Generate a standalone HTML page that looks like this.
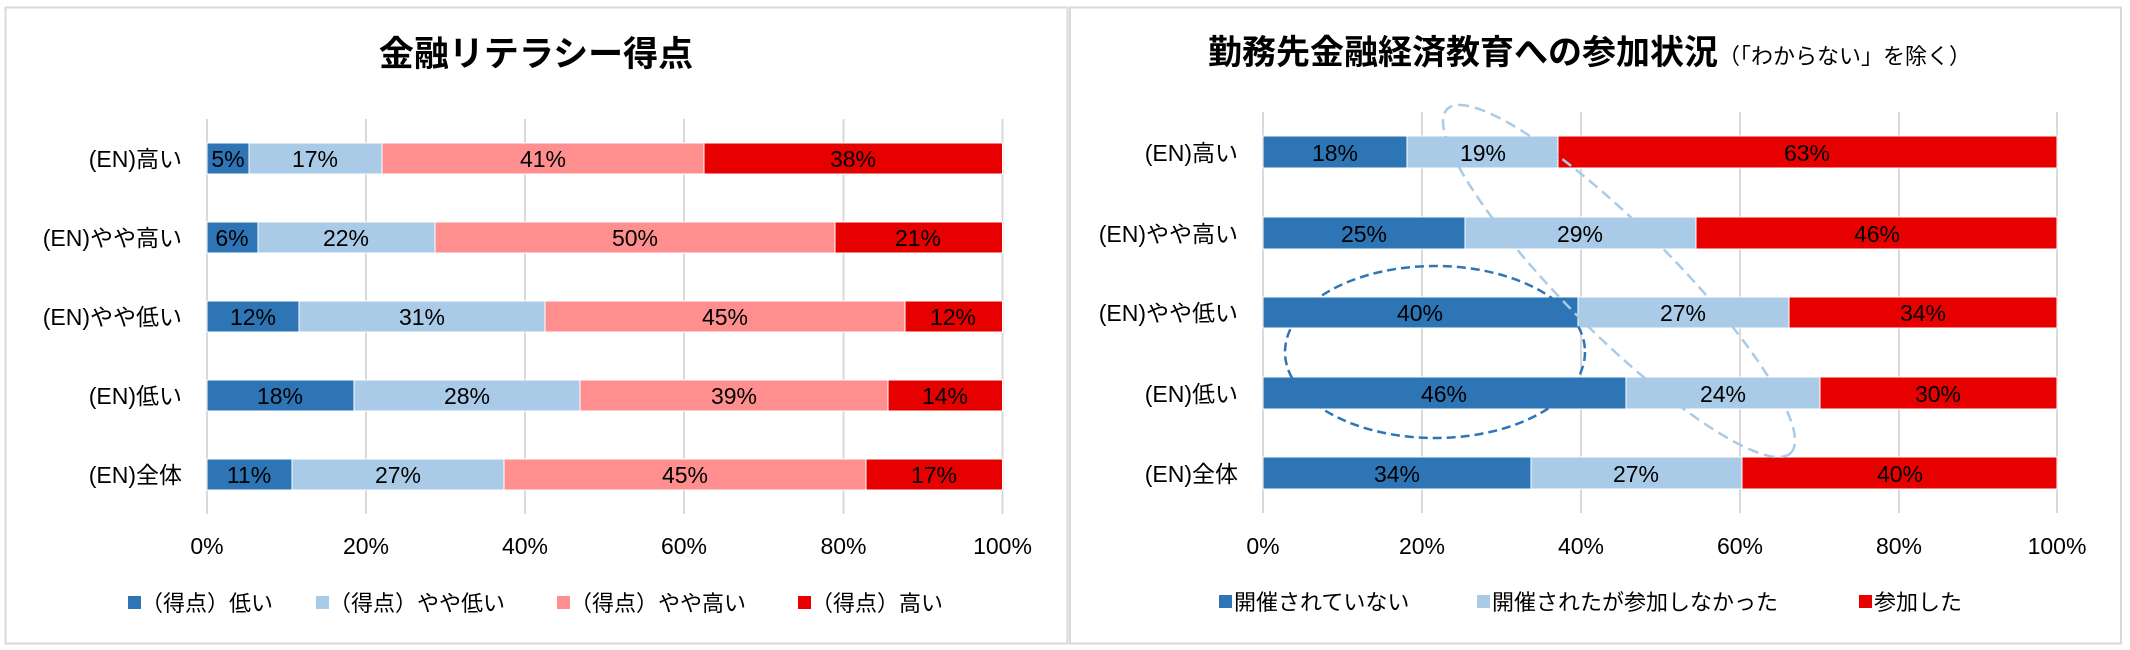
<!DOCTYPE html>
<html><head><meta charset="utf-8"><style>
html,body{margin:0;padding:0;background:#fff}
svg{display:block}
text{font-family:"Liberation Sans","Noto Sans CJK JP",sans-serif;fill:#000}
</style></head><body>
<svg width="2130" height="650" viewBox="0 0 2130 650" xmlns="http://www.w3.org/2000/svg">
<rect x="0" y="0" width="2130" height="650" fill="#fff"/>
<rect x="5.5" y="7.5" width="1062" height="636" fill="#fff" stroke="#d9d9d9" stroke-width="2"/>
<rect x="1070" y="7.5" width="1051" height="636" fill="#fff" stroke="#d9d9d9" stroke-width="2"/>

<!-- LEFT CHART -->
<text x="536" y="66" font-size="35" font-weight="bold" text-anchor="middle">金融リテラシー得点</text>
<g stroke="#d9d9d9" stroke-width="2">
<line x1="207" y1="119" x2="207" y2="514"/><line x1="366" y1="119" x2="366" y2="514"/>
<line x1="525" y1="119" x2="525" y2="514"/><line x1="684" y1="119" x2="684" y2="514"/>
<line x1="843.5" y1="119" x2="843.5" y2="514"/><line x1="1002.5" y1="119" x2="1002.5" y2="514"/>
</g>
<g stroke="#fff" stroke-width="1">
<rect x="207" y="143" width="42" height="31" fill="#2e75b6"/>
<rect x="249" y="143" width="133" height="31" fill="#a9cbe8"/>
<rect x="382" y="143" width="322" height="31" fill="#ff8f8f"/>
<rect x="704" y="143" width="298.5" height="31" fill="#e60000"/>
<rect x="207" y="222" width="51" height="31" fill="#2e75b6"/>
<rect x="258" y="222" width="177" height="31" fill="#a9cbe8"/>
<rect x="435" y="222" width="400" height="31" fill="#ff8f8f"/>
<rect x="835" y="222" width="167.5" height="31" fill="#e60000"/>
<rect x="207" y="301" width="92" height="31" fill="#2e75b6"/>
<rect x="299" y="301" width="246" height="31" fill="#a9cbe8"/>
<rect x="545" y="301" width="360" height="31" fill="#ff8f8f"/>
<rect x="905" y="301" width="97.5" height="31" fill="#e60000"/>
<rect x="207" y="380" width="147" height="31" fill="#2e75b6"/>
<rect x="354" y="380" width="226" height="31" fill="#a9cbe8"/>
<rect x="580" y="380" width="308" height="31" fill="#ff8f8f"/>
<rect x="888" y="380" width="114.5" height="31" fill="#e60000"/>
<rect x="207" y="459" width="85" height="31" fill="#2e75b6"/>
<rect x="292" y="459" width="212" height="31" fill="#a9cbe8"/>
<rect x="504" y="459" width="362" height="31" fill="#ff8f8f"/>
<rect x="866" y="459" width="136.5" height="31" fill="#e60000"/>
</g>
<g font-size="23" text-anchor="middle">
<text x="228" y="167">5%</text><text x="315" y="167">17%</text><text x="543" y="167">41%</text><text x="853" y="167">38%</text>
<text x="232" y="246">6%</text><text x="346" y="246">22%</text><text x="635" y="246">50%</text><text x="918" y="246">21%</text>
<text x="253" y="325">12%</text><text x="422" y="325">31%</text><text x="725" y="325">45%</text><text x="953" y="325">12%</text>
<text x="280" y="404">18%</text><text x="467" y="404">28%</text><text x="734" y="404">39%</text><text x="945" y="404">14%</text>
<text x="249" y="483">11%</text><text x="398" y="483">27%</text><text x="685" y="483">45%</text><text x="934" y="483">17%</text>
</g>
<g font-size="23" text-anchor="end">
<text x="182" y="167">(EN)高い</text>
<text x="182" y="246">(EN)やや高い</text>
<text x="182" y="325">(EN)やや低い</text>
<text x="182" y="404">(EN)低い</text>
<text x="182" y="483">(EN)全体</text>
</g>
<g font-size="23" text-anchor="middle">
<text x="207" y="554">0%</text><text x="366" y="554">20%</text><text x="525" y="554">40%</text>
<text x="684" y="554">60%</text><text x="843.5" y="554">80%</text><text x="1002.5" y="554">100%</text>
</g>
<rect x="128" y="596" width="13" height="13" fill="#2e75b6"/>
<text x="141" y="611" font-size="22">（得点）低い</text>
<rect x="316" y="596" width="13" height="13" fill="#a9cbe8"/>
<text x="329" y="611" font-size="22">（得点）やや低い</text>
<rect x="557" y="596" width="13" height="13" fill="#ff8f8f"/>
<text x="570" y="611" font-size="22">（得点）やや高い</text>
<rect x="798" y="596" width="13" height="13" fill="#e60000"/>
<text x="811" y="611" font-size="22">（得点）高い</text>

<!-- RIGHT CHART -->
<text x="1208" y="64" font-size="34" font-weight="bold">勤務先金融経済教育への参加状況<tspan font-size="22" font-weight="normal">（「わからない」を除く）</tspan></text>
<g stroke="#d9d9d9" stroke-width="2">
<line x1="1263" y1="112" x2="1263" y2="513"/><line x1="1422" y1="112" x2="1422" y2="513"/>
<line x1="1581" y1="112" x2="1581" y2="513"/><line x1="1740" y1="112" x2="1740" y2="513"/>
<line x1="1899" y1="112" x2="1899" y2="513"/><line x1="2057" y1="112" x2="2057" y2="513"/>
</g>
<g stroke="#fff" stroke-width="1">
<rect x="1263" y="136" width="144" height="32" fill="#2e75b6"/>
<rect x="1407" y="136" width="151" height="32" fill="#a9cbe8"/>
<rect x="1558" y="136" width="499" height="32" fill="#e60000"/>
<rect x="1263" y="217" width="202" height="32" fill="#2e75b6"/>
<rect x="1465" y="217" width="231" height="32" fill="#a9cbe8"/>
<rect x="1696" y="217" width="361" height="32" fill="#e60000"/>
<rect x="1263" y="297" width="315" height="31" fill="#2e75b6"/>
<rect x="1578" y="297" width="211" height="31" fill="#a9cbe8"/>
<rect x="1789" y="297" width="268" height="31" fill="#e60000"/>
<rect x="1263" y="377" width="363" height="32" fill="#2e75b6"/>
<rect x="1626" y="377" width="194" height="32" fill="#a9cbe8"/>
<rect x="1820" y="377" width="237" height="32" fill="#e60000"/>
<rect x="1263" y="457" width="268" height="32" fill="#2e75b6"/>
<rect x="1531" y="457" width="211" height="32" fill="#a9cbe8"/>
<rect x="1742" y="457" width="315" height="32" fill="#e60000"/>
</g>
<g font-size="23" text-anchor="middle">
<text x="1335" y="161">18%</text><text x="1483" y="161">19%</text><text x="1807" y="161">63%</text>
<text x="1364" y="242">25%</text><text x="1580" y="242">29%</text><text x="1877" y="242">46%</text>
<text x="1420" y="321">40%</text><text x="1683" y="321">27%</text><text x="1923" y="321">34%</text>
<text x="1444" y="402">46%</text><text x="1723" y="402">24%</text><text x="1938" y="402">30%</text>
<text x="1397" y="482">34%</text><text x="1636" y="482">27%</text><text x="1900" y="482">40%</text>
</g>
<g font-size="23" text-anchor="end">
<text x="1238" y="161">(EN)高い</text>
<text x="1238" y="242">(EN)やや高い</text>
<text x="1238" y="321">(EN)やや低い</text>
<text x="1238" y="402">(EN)低い</text>
<text x="1238" y="482">(EN)全体</text>
</g>
<g font-size="23" text-anchor="middle">
<text x="1263" y="554">0%</text><text x="1422" y="554">20%</text><text x="1581" y="554">40%</text>
<text x="1740" y="554">60%</text><text x="1899" y="554">80%</text><text x="2057" y="554">100%</text>
</g>
<ellipse cx="1435" cy="352" rx="150" ry="86" fill="none" stroke="#2e75b6" stroke-width="2.5" stroke-dasharray="9,5"/>
<ellipse cx="1619" cy="281" rx="243" ry="54" transform="rotate(45 1619 281)" fill="none" stroke="#a9cbe8" stroke-width="2.5" stroke-dasharray="11,6"/>
<rect x="1219" y="595" width="13" height="13" fill="#2e75b6"/>
<text x="1234" y="610" font-size="22">開催されていない</text>
<rect x="1477" y="595" width="13" height="13" fill="#a9cbe8"/>
<text x="1492" y="610" font-size="22">開催されたが参加しなかった</text>
<rect x="1859" y="595" width="13" height="13" fill="#e60000"/>
<text x="1874" y="610" font-size="22">参加した</text>
</svg>
</body></html>
